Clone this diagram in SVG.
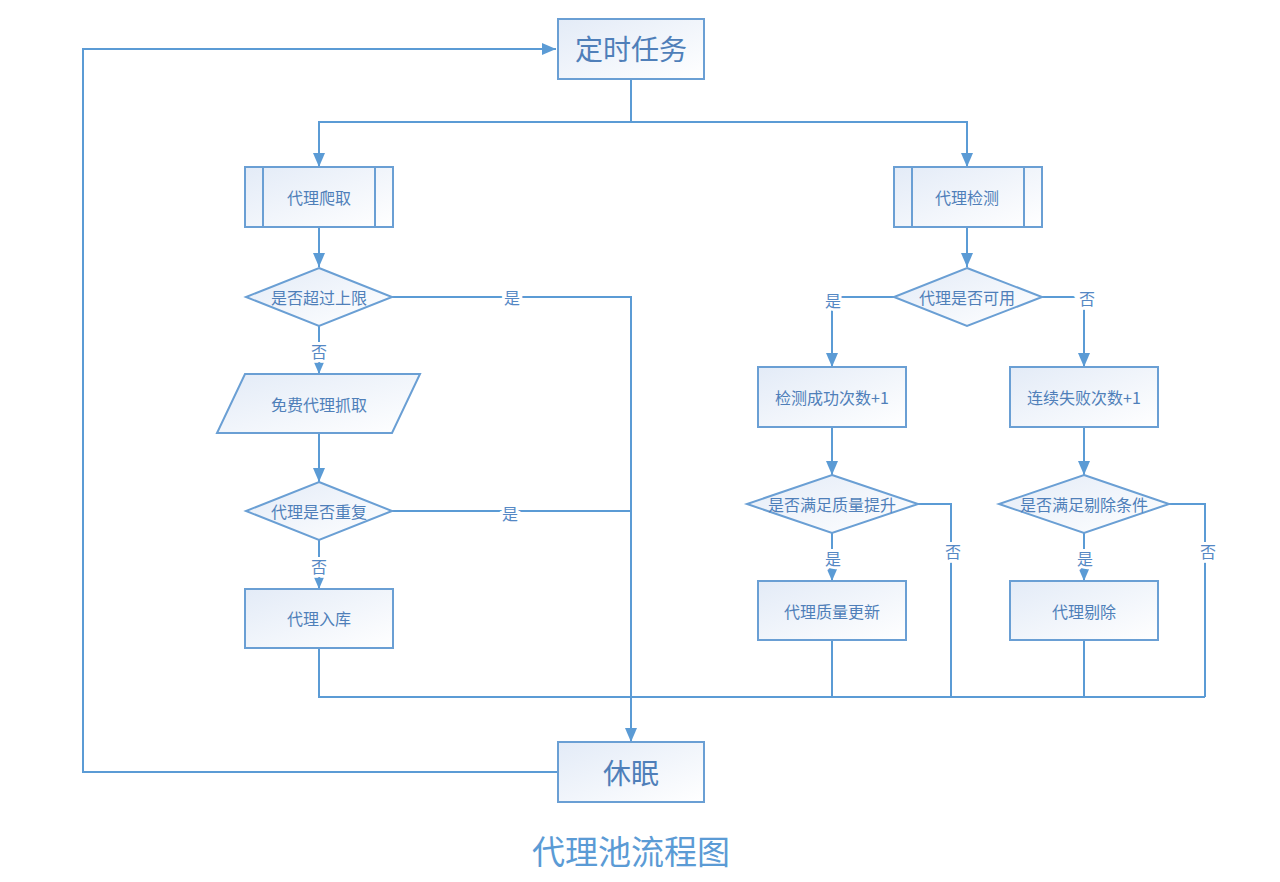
<svg xmlns="http://www.w3.org/2000/svg" width="1280" height="882" viewBox="0 0 1280 882">
<style>
.box{fill:url(#g);stroke:#6a9fd4;stroke-width:2}
.in{stroke:#6a9fd4;stroke-width:2;fill:none}
.t{font-family:"Noto Sans CJK SC","Noto Sans",sans-serif;font-size:16px;fill:#4f7fb9;text-anchor:middle;dominant-baseline:central}
.big{font-size:28px}
.c{fill:none;stroke:#5b9bd5;stroke-width:2}
.lbl{font-family:"Noto Sans CJK SC","Noto Sans",sans-serif;font-size:16px;fill:#5588c4;text-anchor:middle;dominant-baseline:central;stroke:#fff;stroke-width:6;paint-order:stroke}
.title{font-family:"Noto Sans CJK SC","Noto Sans",sans-serif;font-size:33px;fill:#5b9bd5;text-anchor:middle;dominant-baseline:central}
</style>
<defs>
<linearGradient id="g" x1="0" y1="0" x2="1" y2="1">
<stop offset="0" stop-color="#e3ebf7"/>
<stop offset="1" stop-color="#ffffff"/>
</linearGradient>
<marker id="a" markerUnits="userSpaceOnUse" markerWidth="14" markerHeight="12" refX="14" refY="6" orient="auto">
<path d="M0,0 L14,6 L0,12 z" fill="#5b9bd5"/>
</marker>
</defs>
<rect width="1280" height="882" fill="#fff"/>
<g id="connectors">
<path class="c" d="M558,772 H83 V49 H556" marker-end="url(#a)"/>
<path class="c" d="M631,79 V122 H319 V167" marker-end="url(#a)"/>
<path class="c" d="M631,122 H967 V167" marker-end="url(#a)"/>
<path class="c" d="M319,227 V267" marker-end="url(#a)"/>
<path class="c" d="M392,297 H631 V742" marker-end="url(#a)"/>
<path class="c" d="M319,326 V374" marker-end="url(#a)"/>
<path class="c" d="M319,433 V482" marker-end="url(#a)"/>
<path class="c" d="M392,511 H631"/>
<path class="c" d="M319,540 V589" marker-end="url(#a)"/>
<path class="c" d="M319,648 V697 H631"/>
<path class="c" d="M967,227 V267" marker-end="url(#a)"/>
<path class="c" d="M894,297 H832 V367" marker-end="url(#a)"/>
<path class="c" d="M1042,297 H1084 V367" marker-end="url(#a)"/>
<path class="c" d="M832,427 V475" marker-end="url(#a)"/>
<path class="c" d="M1084,427 V475" marker-end="url(#a)"/>
<path class="c" d="M918,504 H951 V697"/>
<path class="c" d="M1169,504 H1205 V697"/>
<path class="c" d="M832,533 V581" marker-end="url(#a)"/>
<path class="c" d="M1084,533 V581" marker-end="url(#a)"/>
<path class="c" d="M832,640 V697"/>
<path class="c" d="M1084,640 V697"/>
<path class="c" d="M631,697 H1205"/>
<text class="lbl" x="512" y="297">是</text>
<text class="lbl" x="510" y="513">是</text>
<text class="lbl" x="319" y="351">否</text>
<text class="lbl" x="319" y="566">否</text>
<text class="lbl" x="833" y="300">是</text>
<text class="lbl" x="1087" y="298">否</text>
<text class="lbl" x="953" y="551">否</text>
<text class="lbl" x="1208" y="551">否</text>
<text class="lbl" x="833" y="558">是</text>
<text class="lbl" x="1085" y="558">是</text>
</g>
<g id="n-timer"><rect class="box" x="558" y="19" width="146" height="60"/><text class="t big" x="631" y="48">定时任务</text></g>
<g id="n-crawl"><rect class="box" x="245" y="167" width="148" height="60"/><path class="in" d="M263,167 V227 M375,167 V227"/><text class="t" x="319" y="197">代理爬取</text></g>
<g id="n-limit"><polygon class="box" points="319,268 392,297 319,326 246,297"/><text class="t" x="319" y="297">是否超过上限</text></g>
<g id="n-free"><polygon class="box" points="245,374 420,374 392,433 217,433"/><text class="t" x="319" y="404">免费代理抓取</text></g>
<g id="n-dup"><polygon class="box" points="319,482 392,511 319,540 246,511"/><text class="t" x="319" y="511">代理是否重复</text></g>
<g id="n-store"><rect class="box" x="245" y="589" width="148" height="59"/><text class="t" x="319" y="618">代理入库</text></g>
<g id="n-check"><rect class="box" x="894" y="167" width="148" height="60"/><path class="in" d="M912,167 V227 M1024,167 V227"/><text class="t" x="967" y="197">代理检测</text></g>
<g id="n-avail"><polygon class="box" points="967,268 1042,297 967,326 894,297"/><text class="t" x="967" y="297">代理是否可用</text></g>
<g id="n-succ"><rect class="box" x="758" y="367" width="148" height="60"/><text class="t" x="832" y="397">检测成功次数+1</text></g>
<g id="n-fail"><rect class="box" x="1010" y="367" width="148" height="60"/><text class="t" x="1084" y="397">连续失败次数+1</text></g>
<g id="n-qual"><polygon class="box" points="832,475 918,504 832,533 747,504"/><text class="t" x="832" y="504">是否满足质量提升</text></g>
<g id="n-rmcond"><polygon class="box" points="1084,475 1169,504 1084,533 999,504"/><text class="t" x="1084" y="504">是否满足剔除条件</text></g>
<g id="n-upd"><rect class="box" x="758" y="581" width="148" height="59"/><text class="t" x="832" y="611">代理质量更新</text></g>
<g id="n-del"><rect class="box" x="1010" y="581" width="148" height="59"/><text class="t" x="1084" y="611">代理剔除</text></g>
<g id="n-sleep"><rect class="box" x="558" y="742" width="146" height="60"/><text class="t big" x="631" y="772">休眠</text></g>
<text class="title" x="631" y="850">代理池流程图</text>
</svg>
